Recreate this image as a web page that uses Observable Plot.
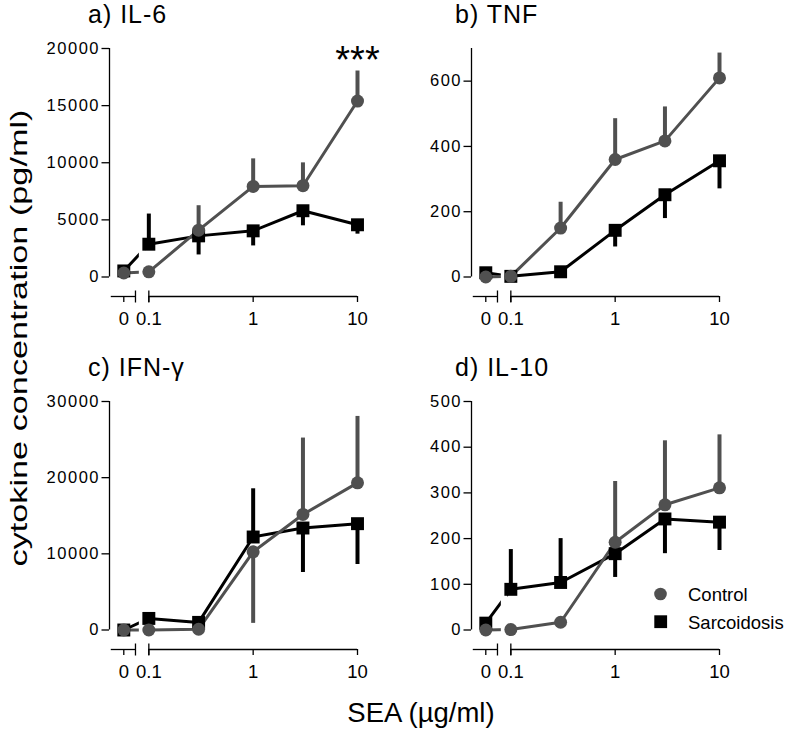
<!DOCTYPE html>
<html>
<head>
<meta charset="utf-8">
<script src="https://cdn.jsdelivr.net/npm/d3@7"></script>
<script src="https://cdn.jsdelivr.net/npm/@observablehq/plot@0.6"></script>
<style>
  body { margin: 0; background: #fff; }
  #fig { position: relative; width: 787px; height: 730px; font-family: "Liberation Sans", Arial, sans-serif; overflow: hidden; }
  #fig .panel { position: absolute; }
  #overlay { position: absolute; left: 0; top: 0; pointer-events: none; }
</style>
</head>
<body>
<div id="fig"></div>
<script>
// ---------------- data ----------------
const doses = [0, 0.1, 0.3, 1, 3, 10];
const seriesNames = ["Control", "Sarcoidosis"];
const panelTitles = ["a) IL-6", "b) TNF", "c) IFN-γ", "d) IL-10"];
const yMaxes = [20000, 700, 30000, 500];
const yTickValues = [
  [0, 5000, 10000, 15000, 20000],
  [0, 200, 400, 600],
  [0, 10000, 20000, 30000],
  [0, 100, 200, 300, 400, 500]
];
const xTickDoses = [0, 0.1, 1, 10];
const xTickLabels = ["0", "0.1", "1", "10"];

// a) IL-6
const il6Control     = [350, 450, 4100, 7930, 7990, 15400];
const il6ControlErr  = [null, null, 6240, 10340, 9990, 18030];
const il6Sarc        = [530, 2870, 3600, 4040, 5800, 4570];
const il6SarcErr     = [null, 5510, 1930, 2720, 4480, 3750];
// b) TNF
const tnfControl     = [0, 2, 150, 360, 417, 610];
const tnfControlErr  = [null, null, 229, 485, 521, 686];
const tnfSarc        = [13, 2, 16, 143, 252, 356];
const tnfSarcErr     = [null, null, null, 92, 179, 270];
// c) IFN-γ
const ifnControl     = [0, 0, 100, 10260, 15170, 19320];
const ifnControlErr  = [null, null, null, 870, 25200, 28040];
const ifnSarc        = [0, 1520, 1000, 12210, 13390, 13960];
const ifnSarcErr     = [null, null, null, 18540, 7550, 8600];
// d) IL-10
const il10Control    = [0, 1, 17, 192, 274, 311];
const il10ControlErr = [null, null, null, 325, 414, 427];
const il10Sarc       = [15, 89, 104, 167, 243, 236];
const il10SarcErr    = [null, 176, 200, 115, 167, 174];

// significance annotation
const sigPanelIndex = [0];
const sigDose = [10];
const sigLabel = ["***"];

const controlValues = [il6Control, tnfControl, ifnControl, il10Control];
const controlErrs   = [il6ControlErr, tnfControlErr, ifnControlErr, il10ControlErr];
const sarcValues    = [il6Sarc, tnfSarc, ifnSarc, il10Sarc];
const sarcErrs      = [il6SarcErr, tnfSarcErr, ifnSarcErr, il10SarcErr];

// ---------------- layout ----------------
const ZERO_POS = -1.24;                       // position of dose 0 on the broken axis (log10 units)
const xpos = d => d === 0 ? ZERO_POS : Math.log10(d);
const X_DOMAIN = [-1.377, 1];
const AXIS_SEGS = [[-1.36, -1.128], [-1, 1]];
const CAPS = [-1.128, -1];
const GAP = [-1.091, -1.03];

const W = 395, H = 340, ML = 109, MR = 38, MT = 48, MB = 44;
const ZERO_OFFSET = 19.5;
const panelPos = [[0, 0], [362, 0], [0, 353], [362, 353]];
const colors = { Control: "#505050", Sarcoidosis: "#000000" };
const FONT = "Liberation Sans, Arial, sans-serif";

const vline = {
  draw(ctx, size) {
    const h = Math.sqrt(size / Math.PI);
    ctx.moveTo(0, -h);
    ctx.lineTo(0, h);
  }
};

function makeRows(values, errs, group) {
  return doses.map((d, i) => ({ dose: d, x: xpos(d), v: values[i], err: errs[i], group }));
}

const fig = document.getElementById("fig");

for (let i = 0; i < 4; i++) {
  const ctrl = makeRows(controlValues[i], controlErrs[i], seriesNames[0]);
  const sarc = makeRows(sarcValues[i], sarcErrs[i], seriesNames[1]);
  const yTop = yMaxes[i];
  const yBottom = -yTop * ZERO_OFFSET / (H - MT - MB - ZERO_OFFSET);
  const xTicks = xTickDoses.map((d, k) => ({ x: xpos(d), label: xTickLabels[k] }));

  const marks = [];
  for (const rows of [sarc, ctrl]) {
    const c = colors[rows[0].group];
    marks.push(Plot.ruleX(rows.filter(r => r.err != null), { x: "x", y1: "v", y2: "err", stroke: c, strokeWidth: 4 }));
    marks.push(Plot.line(rows, { x: "x", y: "v", stroke: c, strokeWidth: 3 }));
  }
  // break in the connecting line between 0 and 0.1
  marks.push(Plot.rect([GAP], { x1: d => d[0], x2: d => d[1], y1: () => yBottom * 0.5, y2: () => yTop, fill: "white" }));
  marks.push(Plot.dot(sarc, { x: "x", y: "v", symbol: "square", r: 7.3, fill: colors.Sarcoidosis, stroke: "none" }));
  marks.push(Plot.dot(ctrl, { x: "x", y: "v", symbol: "circle", r: 6.5, fill: colors.Control, stroke: "none" }));

  // axes lines and ticks
  marks.push(Plot.ruleX([X_DOMAIN[0]], { x: d => d, y1: () => 0, y2: () => yTop, stroke: "#000", strokeWidth: 1.3 }));
  marks.push(Plot.ruleY(AXIS_SEGS, { x1: d => d[0], x2: d => d[1], y: () => yBottom, stroke: "#000", strokeWidth: 1.3 }));
  marks.push(Plot.dot(CAPS, { x: d => d, y: () => yBottom, symbol: vline, r: 6, stroke: "#000", strokeWidth: 1.3, fill: "none" }));
  marks.push(Plot.axisX(xTicks.map(t => t.x), {
    anchor: "bottom", tickSize: 6, tickFormat: () => "", label: null, stroke: "#000", strokeWidth: 1.3
  }));
  marks.push(Plot.axisY(yTickValues[i], {
    anchor: "left", tickSize: 7.5, tickFormat: () => "", label: null, stroke: "#000", strokeWidth: 1.3
  }));
  // tick labels
  marks.push(Plot.text(xTicks, {
    x: "x", y: () => yBottom, text: "label", fontSize: 18.5, lineAnchor: "top", dy: 15, fill: "#000"
  }));
  marks.push(Plot.text(yTickValues[i], {
    x: () => X_DOMAIN[0], y: d => d, text: d => String(d), textAnchor: "end", lineAnchor: "middle",
    dx: -9.5, fontSize: 16.5, fill: "#000"
  }));

  // significance annotation
  const sig = sigPanelIndex.map((p, k) => ({ p, x: xpos(sigDose[k]), label: sigLabel[k] })).filter(s => s.p === i);
  if (sig.length) {
    marks.push(Plot.text(sig, { x: "x", y: () => yTop, text: "label", fontSize: 38, lineAnchor: "top", dy: -2, fill: "#000" }));
  }

  const svg = Plot.plot({
    width: W, height: H,
    marginLeft: ML, marginRight: MR, marginTop: MT, marginBottom: MB,
    style: { fontFamily: FONT, background: "transparent", overflow: "visible" },
    x: { domain: X_DOMAIN },
    y: { domain: [yBottom, yTop] },
    marks
  });
  // slightly looser digit spacing on the y tick labels, as in the original
  svg.querySelectorAll('g[text-anchor="end"] text').forEach(t => {
    t.style.letterSpacing = "1.5px";
  });
  const wrap = document.createElement("div");
  wrap.className = "panel";
  wrap.style.left = panelPos[i][0] + "px";
  wrap.style.top = panelPos[i][1] + "px";
  wrap.appendChild(svg);
  fig.appendChild(wrap);
}

// ---------------- titles, axis labels, legend ----------------
const titlePos = [[88, 23], [455, 23], [88, 376], [455, 376]];
const ns = "http://www.w3.org/2000/svg";
const ov = document.createElementNS(ns, "svg");
ov.setAttribute("id", "overlay");
ov.setAttribute("width", 787);
ov.setAttribute("height", 730);
ov.style.fontFamily = FONT;
fig.appendChild(ov);

function addText(str, attrs) {
  const t = document.createElementNS(ns, "text");
  for (const [k, v] of Object.entries(attrs)) t.setAttribute(k, v);
  t.textContent = str;
  ov.appendChild(t);
  return t;
}

panelTitles.forEach((t, i) => {
  addText(t, { x: titlePos[i][0], y: titlePos[i][1], "font-size": 25, "letter-spacing": 1, fill: "#000" });
});

addText("cytokine concentration (pg/ml)", {
  transform: "translate(27,338) rotate(-90)", "text-anchor": "middle", "font-size": 24,
  textLength: 457, lengthAdjust: "spacingAndGlyphs", fill: "#000"
});
addText("SEA (µg/ml)", { x: 421, y: 721.5, "text-anchor": "middle", "font-size": 27.5, fill: "#000" });

// legend
const legendY = [594, 621.7];
const c1 = document.createElementNS(ns, "circle");
c1.setAttribute("cx", 660.5); c1.setAttribute("cy", legendY[0]); c1.setAttribute("r", 6.3);
c1.setAttribute("fill", colors.Control);
ov.appendChild(c1);
const r1 = document.createElementNS(ns, "rect");
r1.setAttribute("x", 660.7 - 6.4); r1.setAttribute("y", legendY[1] - 6.4);
r1.setAttribute("width", 12.8); r1.setAttribute("height", 12.8);
r1.setAttribute("fill", colors.Sarcoidosis);
ov.appendChild(r1);
seriesNames.forEach((s, k) => {
  addText(s, { x: 688, y: legendY[k] + 7.2, "font-size": 18.5, fill: "#000" });
});
</script>
</body>
</html>
